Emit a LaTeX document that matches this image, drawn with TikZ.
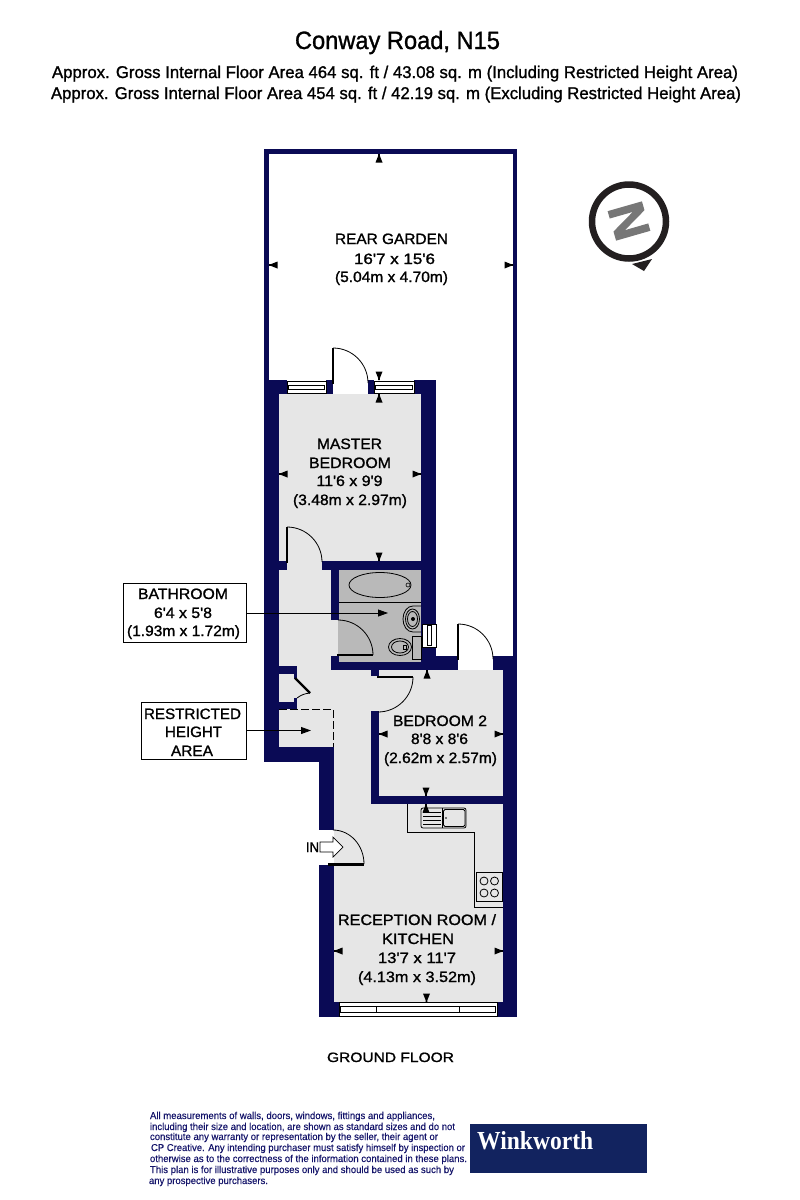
\documentclass[tikz,border=0pt]{standalone}
\usepackage{fontspec}
\usepackage{graphicx}
\usetikzlibrary{arrows.meta}
\newfontfamily\planfont[FakeBold=1.2]{Liberation Sans}
\newfontfamily\legalfont[FakeBold=0.3]{Liberation Sans}
\newfontfamily\planbold[FakeBold=2.5]{Liberation Sans Bold}
\newfontfamily\brandfont{Liberation Serif Bold}
\definecolor{wallnavy}{HTML}{0A0A55}
\definecolor{floorgrey}{HTML}{E6E6E6}
\definecolor{wetgrey}{HTML}{B9B9B9}
\definecolor{brandnavy}{HTML}{12235F}
\definecolor{legalnavy}{HTML}{14146A}
\definecolor{compassblack}{HTML}{231F20}
\definecolor{compassgrey}{HTML}{777777}
\tikzset{
  wall/.style={fill=wallnavy,draw=none},
  floorarea/.style={fill=floorgrey,draw=none},
  fitting/.style={draw=black,line width=0.8pt},
  doorleaf/.style={draw=black,line width=2.4pt},
  doorswing/.style={draw=black,line width=0.8pt},
  lbl/.style={inner sep=0pt,outer sep=0pt,anchor=base,text=black},
  legal/.style={inner sep=0pt,outer sep=0pt,anchor=base west,text=legalnavy},
  callout/.style={draw=black,line width=1pt,fill=white,inner sep=0pt},
  leader/.style={draw=black,line width=0.8pt,-{Triangle[length=10pt,width=7pt]}}
}
\newcommand{\wallrect}[4]{\fill[wall] (#1,#2) rectangle (#3,#4);}
\newcommand{\floorrect}[4]{\fill[floorarea] (#1,#2) rectangle (#3,#4);}
% name, centre x, baseline y, width, size, text
\newcommand{\lab}[6]{\node[lbl] (#1) at (#2,#3) {\resizebox{#4pt}{\height}{\fontsize{#5}{#5}\planfont #6}};}
\newcommand{\legalline}[5]{\node[legal] (#1) at (#2,#3) {\resizebox{#4pt}{\height}{\fontsize{10}{10}\legalfont #5}};}
% dimension tick: x, y at wall, rotation (0 = wall above)
\newcommand{\dimtick}[3]{\fill[black,shift={(#1,#2)},rotate=#3] (-0.9,0) -- (0.9,0) -- (0.9,2) -- (3.5,8.5) -- (-3.5,8.5) -- (-0.9,2) -- cycle;}
\newcommand{\hwindow}[4]{%
  \draw[fitting,fill=white] (#1,#2) rectangle (#3,#4);
  \draw[fitting,line width=0.6pt] (#1+1.5,#2+4) rectangle (#3-1.5,#4-4);}
\begin{document}
\begin{tikzpicture}[x=1pt,y=-1pt]
\useasboundingbox (0,0) rectangle (800,1200);
\fill[white] (0,0) rectangle (800,1200);

% garden boundary
\wallrect{264}{149}{269}{380}
\wallrect{264}{149}{517}{154}
\wallrect{513}{149}{517}{656}

% floors
\floorrect{279}{394}{421}{561}
\floorrect{287}{561}{322}{570}
\floorrect{279}{570}{339}{666}
\floorrect{279}{666}{371}{747}
\floorrect{331}{662}{379}{711}
\floorrect{334}{747}{371}{804}
\floorrect{379}{670}{503}{796}
\floorrect{334}{804}{503}{1002}
\fill[wetgrey] (338,570) rectangle (421,662);

% walls
\wallrect{264}{380}{279}{762}
\wallrect{264}{380}{287}{394}
\wallrect{326}{380}{333}{394}
\wallrect{368}{380}{374}{394}
\wallrect{414}{380}{436}{394}
\wallrect{421}{394}{436}{670}
\wallrect{279}{561}{287}{570}
\wallrect{322}{561}{421}{570}
\wallrect{331}{570}{339}{620}
\wallrect{331}{656}{339}{670}
\wallrect{331}{662}{458}{670}
\wallrect{436}{656}{458}{670}
\wallrect{493}{656}{517}{670}
\wallrect{503}{656}{517}{1017}
\wallrect{371}{670}{379}{676}
\wallrect{371}{711}{379}{804}
\wallrect{371}{796}{503}{804}
\wallrect{279}{666}{297}{674}
\wallrect{294}{674}{297}{679}
\wallrect{279}{702}{297}{709}
\wallrect{294}{698}{297}{702}
\wallrect{264}{747}{334}{762}
\wallrect{319}{762}{334}{830}
\wallrect{319}{865}{334}{1017}
\wallrect{319}{1002}{339}{1017}
\wallrect{497}{1002}{517}{1017}

% restricted height line
\coordinate (rhA) at (279,709);
\coordinate (rhB) at (333,709);
\coordinate (rhC) at (333,747);
\draw[black,line width=0.8pt,dashed,dash pattern=on 8pt off 3pt] (rhA) -- (rhB) -- (rhC);

% windows
\hwindow{287}{381}{326}{393}
\hwindow{374}{381}{414}{393}
\hwindow{339}{1002.5}{497}{1016.5}
\draw[fitting,line width=0.6pt] (376.5,1007) -- (376.5,1012) (459,1007) -- (459,1012);
\draw[fitting,fill=white] (422,624) rectangle (436,647);
\draw[fitting,line width=0.6pt] (427,625.5) rectangle (431,645.5);

% doors
\draw[doorleaf] (333,348) -- (333,384);
\draw[doorswing] (333,348) arc[start angle=-90,end angle=0,radius=35];
\draw[doorleaf] (287,527) -- (287,563);
\draw[doorswing] (287,527) arc[start angle=-90,end angle=0,radius=35];
\draw[doorleaf] (337,655) -- (373,655);
\draw[doorswing] (338,620) arc[start angle=-90,end angle=0,radius=35];
\draw[doorleaf] (377,677) -- (413,677);
\draw[doorswing] (413,677) arc[start angle=0,end angle=90,radius=35];
\draw[doorleaf] (458,624) -- (458,660);
\draw[doorswing] (458,624) arc[start angle=-90,end angle=0,radius=35];
\draw[doorleaf] (295,678) -- (310,693);
\draw[doorswing] (310,693) to[bend right=15] (297,698);

% entrance
\fill[white] (300,830) rectangle (334,865);
\draw[doorleaf] (328,864.5) -- (364,864.5);
\draw[doorswing] (333,830) arc[start angle=-90,end angle=0,x radius=31,y radius=34];
\draw[black,line width=0.7pt,fill=white] (320,842) -- (333,842) -- (333,837) -- (343,847) -- (333,857) -- (333,852) -- (320,852) -- cycle;

% bath
\draw[fitting] (380,585) ellipse[x radius=31,y radius=12.5];
\draw[fitting,line width=0.6pt] (408,585) circle[radius=2];
\draw[fitting] (339,602) -- (421,602);
% basin
\draw[fitting] (421,606) -- (413,606) .. controls (407,606) and (403,612) .. (403,619) .. controls (403,626) and (407,632) .. (413,632) -- (421,632);
\draw[fitting] (412.5,619) ellipse[x radius=7,y radius=10];
\draw[fitting] (412.5,619) ellipse[x radius=5,y radius=7.5];
\fill[black] (413,619) circle[radius=2];
% toilet
\draw[fitting] (412,636) rectangle (421,659);
\draw[fitting] (400,647) ellipse[x radius=11.5,y radius=8.5];
\draw[fitting] (400,647) ellipse[x radius=8.5,y radius=6];
\draw[fitting,line width=0.6pt] (403,645) rectangle (406,649);

% kitchen
\draw[fitting] (407,804) -- (407,832) -- (474.5,832) -- (474.5,907) -- (503,907);
\draw[fitting,fill=floorgrey,rounded corners=2pt] (421,808) rectangle (466,828);
\draw[fitting] (442,808) -- (442,828);
\draw[fitting,rounded corners=1.5pt] (443.5,809.5) rectangle (465,826.5);
\draw[fitting] (423,812) -- (441,812) (423,816) -- (441,816) (423,820) -- (441,820) (423,824) -- (441,824);
\fill[black] (446,818) circle[radius=0.8];
\draw[fitting] (476,872) rectangle (502,901);
\draw[fitting] (484,881) circle[radius=4] (494.5,881) circle[radius=4] (484,893) circle[radius=4] (494.5,893) circle[radius=4];

% dimension ticks
\dimtick{379}{154}{0}
\dimtick{269}{265}{90}
\dimtick{513}{265}{-90}
\dimtick{379}{380}{180}
\dimtick{379}{394}{0}
\dimtick{279}{474}{90}
\dimtick{421}{474}{-90}
\dimtick{379}{561}{180}
\dimtick{427}{670}{0}
\dimtick{379}{734}{90}
\dimtick{503}{734}{-90}
\dimtick{426}{796}{180}
\dimtick{426}{804}{0}
\dimtick{334}{951}{90}
\dimtick{503}{951}{-90}
\dimtick{426.5}{1002}{180}

% titles
\lab{title}{397.5}{49}{205}{25}{Conway Road, N15}
\lab{areaA}{395}{78}{686}{17}{Approx. Gross Internal Floor Area 464 sq. ft / 43.08 sq. m (Including Restricted Height Area)}
\lab{areaB}{396}{99}{690}{17}{Approx. Gross Internal Floor Area 454 sq. ft / 42.19 sq. m (Excluding Restricted Height Area)}

% rooms
\lab{gardenA}{391.5}{244}{113}{15}{REAR GARDEN}
\lab{gardenB}{394.5}{264}{81}{15}{16'7 x 15'6}
\lab{gardenC}{391.5}{282}{113}{15}{(5.04m x 4.70m)}
\lab{masterA}{349.5}{449}{65}{15}{MASTER}
\lab{masterB}{350}{468}{82}{15}{BEDROOM}
\lab{masterC}{349.5}{486}{66}{15}{11'6 x 9'9}
\lab{masterD}{350}{505}{114}{15}{(3.48m x 2.97m)}
\lab{bedA}{440}{726}{94}{15}{BEDROOM 2}
\lab{bedB}{439.5}{744}{57}{15}{8'8 x 8'6}
\lab{bedC}{440.5}{763}{113}{15}{(2.62m x 2.57m)}
\lab{recA}{417}{925}{158}{15}{RECEPTION ROOM /}
\lab{recB}{418}{944}{72}{15}{KITCHEN}
\lab{recC}{417}{963}{78}{15}{13'7 x 11'7}
\lab{recD}{417}{982}{118}{15}{(4.13m x 3.52m)}
\lab{infloor}{312.5}{852}{13}{14}{IN}
\lab{ground}{390.5}{1062}{127}{13.5}{GROUND FLOOR}

% callouts
\node[callout,minimum width=123pt,minimum height=59pt] (bathbox) at (184.5,613) {};
\lab{bathA}{183}{599}{90}{15}{BATHROOM}
\lab{bathB}{183}{618}{58}{15}{6'4 x 5'8}
\lab{bathC}{183.5}{636}{113}{15}{(1.93m x 1.72m)}
\node[callout,minimum width=105pt,minimum height=57pt] (rhbox) at (193.5,730.5) {};
\lab{rhL1}{192.5}{719}{97}{15}{RESTRICTED}
\lab{rhL2}{193.5}{737}{57}{15}{HEIGHT}
\lab{rhL3}{192}{756}{42}{15}{AREA}
\coordinate (bathtip) at (388,613);
\coordinate (rhtip) at (311,730.5);
\draw[leader] (bathbox.east) -- (bathtip);
\draw[leader] (rhbox.east) -- (rhtip);

% compass
\draw[compassblack,line width=6.5pt] (629,221.5) circle[radius=37];
\fill[compassblack] (632,264) -- (652,259) -- (644,271) -- cycle;
\node[inner sep=0pt,text=compassgrey,rotate=-74] (north) at (629,221) {\fontsize{50}{50}\planbold N};

% legal text
\legalline{legalA}{150}{1119}{285}{All measurements of walls, doors, windows, fittings and appliances,}
\legalline{legalB}{150}{1130}{305}{including their size and location, are shown as standard sizes and do not}
\legalline{legalC}{150}{1140}{288}{constitute any warranty or representation by the seller, their agent or}
\legalline{legalD}{151}{1151}{314}{CP Creative. Any intending purchaser must satisfy himself by inspection or}
\legalline{legalE}{150}{1162}{317}{otherwise as to the correctness of the information contained in these plans.}
\legalline{legalF}{150}{1173}{304}{This plan is for illustrative purposes only and should be used as such by}
\legalline{legalG}{149}{1184}{119}{any prospective purchasers.}

% brand
\fill[brandnavy] (470,1124) rectangle (647,1173);
\node[inner sep=0pt,anchor=base west,text=white] (brand) at (477,1149) {\resizebox{116pt}{\height}{\fontsize{26}{26}\brandfont Winkworth}};
\end{tikzpicture}
\end{document}
